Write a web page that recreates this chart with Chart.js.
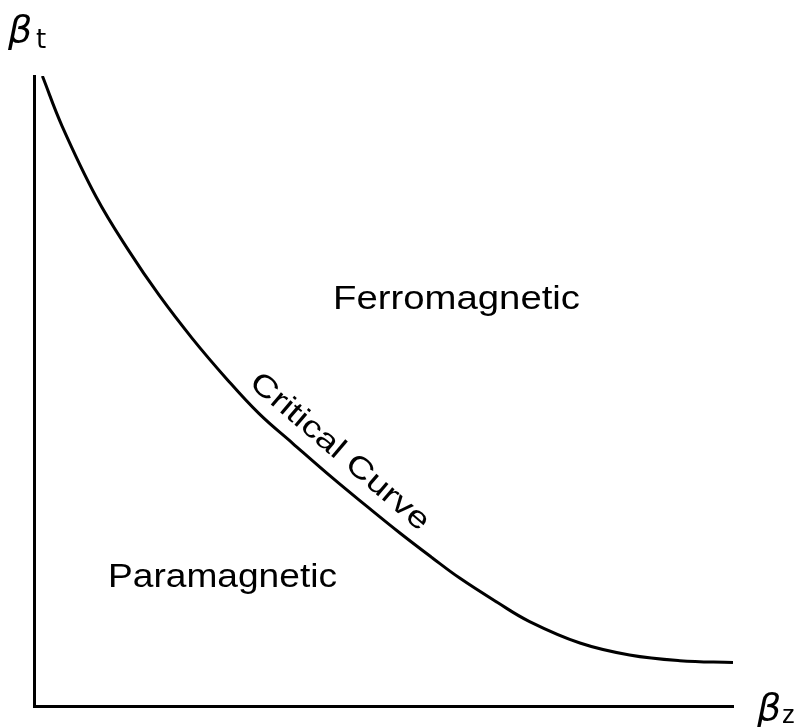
<!DOCTYPE html>
<html>
<head>
<meta charset="utf-8">
<script src="https://cdn.jsdelivr.net/npm/chart.js@4/dist/chart.umd.min.js"></script>
<style>
html,body{margin:0;padding:0;background:#fff;}
#wrap{width:807px;height:727px;position:relative;}
</style>
</head>
<body>
<div id="wrap"><canvas id="c" width="807" height="727"></canvas></div>
<script>
// Critical curve (beta_z, beta_t) in arbitrary units
const betaZ = [0.12,0.40,0.89,1.36,1.79,2.26,2.75,3.22,3.70,4.27,4.75,5.23,5.70,6.09,6.62,7.09,7.81,8.52,9.24,10.0];
const betaT = [10.0,9.21,8.08,7.22,6.52,5.84,5.20,4.64,4.17,3.62,3.18,2.75,2.35,2.03,1.65,1.34,1.00,0.81,0.72,0.69];
const regionLabels = ["Ferromagnetic","Paramagnetic"];
const curveLabel = "Critical Curve";
const axisLabels = {y:["β","t"], x:["β","z"]};

const points = betaZ.map((x,i)=>({x:x,y:betaT[i]}));

const textPlugin = {
  id:'texts',
  afterDraw(chart){
    const ctx = chart.ctx;
    ctx.save();
    ctx.fillStyle = '#000';
    ctx.textBaseline = 'alphabetic';
    ctx.textAlign = 'left';
    function fitText(t, x, y, w, size){
      ctx.font = size+'px "Liberation Sans", Arial, sans-serif';
      const m = ctx.measureText(t).width;
      ctx.save();
      ctx.translate(x,y);
      ctx.scale(w/m,1);
      ctx.fillText(t,0,0);
      ctx.restore();
    }
    fitText(regionLabels[0], 333, 309, 247, 33);
    fitText(regionLabels[1], 108, 587, 229, 33);
    // rotated curve label, sitting just above the curve
    ctx.save();
    ctx.translate(248, 385);
    ctx.rotate(40.5*Math.PI/180);
    ctx.font = '30px "Liberation Sans", Arial, sans-serif';
    const m = ctx.measureText(curveLabel).width;
    ctx.scale(226/m,1);
    ctx.textBaseline = 'alphabetic';
    ctx.fillText(curveLabel,0,0);
    ctx.restore();
    // axis labels
    ctx.font = 'italic 38px "DejaVu Sans", sans-serif';
    ctx.fillText(axisLabels.y[0], 8, 42);
    ctx.font = '26px "DejaVu Sans", sans-serif';
    ctx.fillText(axisLabels.y[1], 36, 48);
    ctx.font = 'italic 38px "DejaVu Sans", sans-serif';
    ctx.fillText(axisLabels.x[0], 757, 720);
    ctx.font = '26px "Liberation Sans", sans-serif';
    ctx.fillText(axisLabels.x[1], 782, 723);
    ctx.restore();
  }
};

new Chart(document.getElementById('c'), {
  type:'scatter',
  data:{datasets:[{
    data:points,
    showLine:true,
    borderColor:'#000',
    borderWidth:3,
    pointRadius:0,
    tension:0.4,
    fill:false
  }]},
  options:{
    responsive:false,
    animation:false,
    layout:{padding:{left:34,top:76,right:74,bottom:21}},
    plugins:{legend:{display:false},tooltip:{enabled:false}},
    scales:{
      x:{type:'linear',min:0,max:10,
         grid:{display:false,drawTicks:false},
         ticks:{display:false},
         border:{display:true,width:3,color:'#000'}},
      y:{type:'linear',min:0,max:10,
         grid:{display:false,drawTicks:false},
         ticks:{display:false},
         border:{display:true,width:3,color:'#000'}}
    }
  },
  plugins:[textPlugin]
});
</script>
</body>
</html>
